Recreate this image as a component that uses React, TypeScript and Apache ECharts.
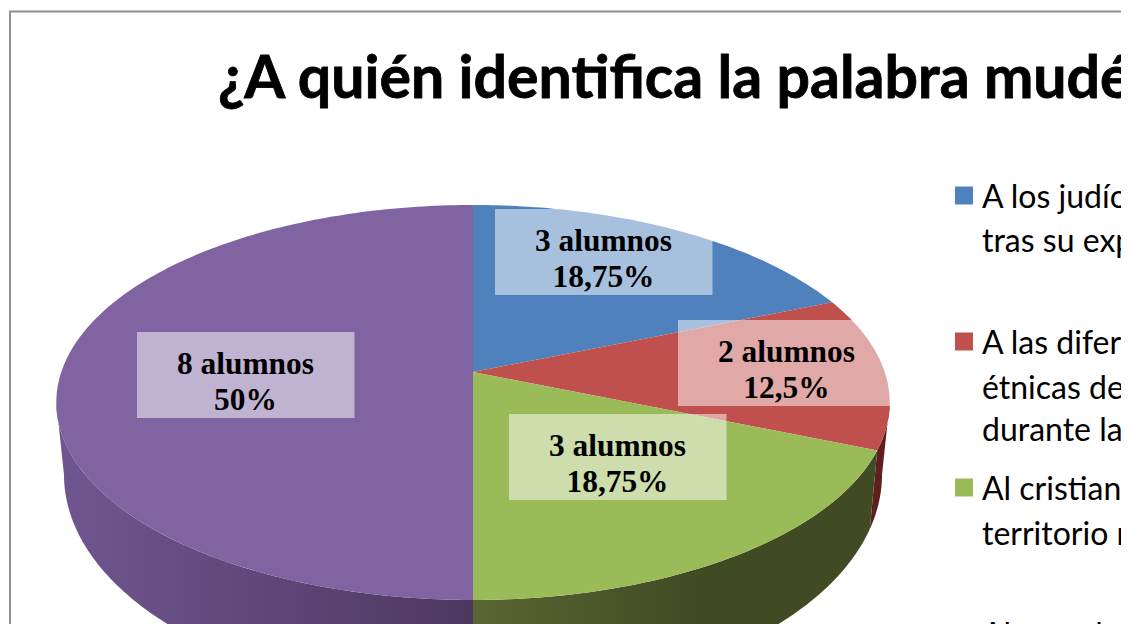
import React, { useEffect, useRef } from "react";
import * as echarts from "echarts";

const titleText = "¿A quién identifica la palabra mudéjar?";
const categories = [
  "A los judíos\ntras su expulsión",
  "A las diferentes\nétnicas de\ndurante la",
  "Al cristiano\nterritorio musulmán",
  "Al musulmán",
];
const alumnos = [3, 2, 3, 8];
const topColors = ["#4f81bd", "#c0504d", "#9bbb59", "#8064a2"];
const sideStops = [
  ["#2c4a6e", "#2c4a6e"],
  ["#5e1f1e", "#5e1f1e"],
  ["#5a6633", "#404a23"],
  ["#705690", "#4d3860"],
];

// Geometry of the tilted pie (a perspective view of a circle)
const CX = 473, CY = 372, A = 411.7, B = 192.8, K = 0.1544;
const RIM_MID = 402.5, LOWER_MID = 474.5, LOWER_SX = 0.9816, LOWER_SY = 1.139;
const deg = Math.PI / 180;
const VIS_START = 98.9, VIS_END = 261.1;
const total = alumnos.reduce((a, b) => a + b, 0);
const starts = alumnos.map((_, i) => alumnos.slice(0, i).reduce((a, b) => a + b, 0) / total * 360);

function top(t: number): number[] {
  const u = Math.sin(t * deg), v = -Math.cos(t * deg), w = 1 - K * v;
  return [CX + (A * u) / w, CY + (B * v) / w];
}
function lower(t: number): number[] {
  const p = top(t);
  return [CX + (p[0] - CX) * LOWER_SX, LOWER_MID + (p[1] - RIM_MID) * LOWER_SY];
}
function arc(fn: (t: number) => number[], a: number, b: number): number[][] {
  const n = Math.max(2, Math.ceil(Math.abs(b - a)));
  const out: number[][] = [];
  for (let i = 0; i <= n; i++) out.push(fn(a + ((b - a) * i) / n));
  return out;
}

const labelBoxes = [
  { x: 495, y: 209 },
  { x: 678, y: 320 },
  { x: 509, y: 414 },
  { x: 137, y: 332 },
];
const fmtPct = (v: number) => String(Math.round((v / total) * 10000) / 100).replace(".", ",");

export default function App() {
  const ref = useRef<HTMLDivElement>(null);
  useEffect(() => {
    const chart = echarts.init(ref.current!, null, { renderer: "svg" });
    const sliceSeries = alumnos.map((value, i) => ({
      type: "custom",
      name: categories[i],
      coordinateSystem: "none",
      silent: true,
      itemStyle: { color: topColors[i] },
      z: 2,
      data: [value],
      renderItem: (_p: any, api: any) => {
        const a0 = starts[i];
        const a1 = a0 + (api.value(0) / total) * 360;
        const children: any[] = [];
        const s0 = Math.max(a0, VIS_START), s1 = Math.min(a1, VIS_END);
        if (s1 > s0) {
          const pts = [...arc(top, s0, s1), ...arc(lower, s1, s0)];
          const xs = pts.map((p) => p[0]);
          children.push({
            type: "polygon",
            shape: { points: pts },
            style: {
              fill: new echarts.graphic.LinearGradient(
                i === 2 ? CX : Math.min(...xs), 0,
                i === 2 ? 700 : Math.max(...xs), 0,
                [
                  { offset: 0, color: sideStops[i][0] },
                  { offset: 1, color: sideStops[i][1] },
                ],
                true
              ),
            },
          });
        }
        children.push({
          type: "polygon",
          shape: { points: [[CX, CY], ...arc(top, a0, a1)] },
          style: { fill: topColors[i] },
        });
        return { type: "group", children };
      },
    }));
    const labelSeries = {
      type: "custom",
      name: "etiquetas",
      coordinateSystem: "none",
      silent: true,
      z: 5,
      data: alumnos,
      renderItem: (p: any, api: any) => {
        const v = api.value(0);
        const b = labelBoxes[p.dataIndex];
        return {
          type: "group",
          children: [
            { type: "rect", shape: { x: b.x, y: b.y, width: 217.5, height: 86 }, style: { fill: "rgba(255,255,255,0.5)" } },
            {
              type: "text",
              x: b.x + 108.5,
              y: b.y + 49,
              style: {
                text: `${v} alumnos\n${fmtPct(v)}%`,
                font: 'bold 31.4px "Liberation Serif"',
                fill: "#000",
                align: "center",
                verticalAlign: "middle",
                lineHeight: 36,
              },
            },
          ],
        };
      },
    };
    const continuation = categories.flatMap((c, i) =>
      c.split("\n").slice(1).map((line, j) => ({
        type: "text",
        x: 982,
        y: 197 + 146.5 * i + 42.5 * (j + 1),
        style: { text: line, font: '32px "Lato"', fill: "#000", verticalAlign: "middle" },
      }))
    );
    chart.setOption({
      animation: false,
      backgroundColor: "#fff",
      title: {
        text: titleText,
        left: 218,
        top: 46,
        padding: 0,
        textStyle: { fontFamily: "Lato", fontWeight: "bold", fontSize: 59, color: "#000", textBorderColor: "#000", textBorderWidth: 0.8 },
      },
      legend: {
        orient: "vertical",
        left: 955,
        top: 179.5,
        padding: 0,
        icon: "rect",
        itemWidth: 18,
        itemHeight: 18,
        itemGap: 114,
        selectedMode: false,
        data: categories,
        formatter: (n: string) => n.split("\n")[0],
        textStyle: { fontFamily: "Lato", fontSize: 32, color: "#000", padding: [0, 0, 0, 4] },
      },
      graphic: [
        { type: "rect", z: 0, shape: { x: 10, y: 11.5, width: 1400, height: 900 }, style: { fill: "none", stroke: "#8f8f8f", lineWidth: 2 } },
        ...continuation,
      ],
      series: [...sliceSeries, labelSeries],
    });
    return () => chart.dispose();
  }, []);
  return (
    <div style={{ position: "fixed", left: 0, top: 0, width: 1121, height: 624, overflow: "hidden", background: "#fff" }}>
      <div ref={ref} style={{ width: 1500, height: 900 }} />
    </div>
  );
}
